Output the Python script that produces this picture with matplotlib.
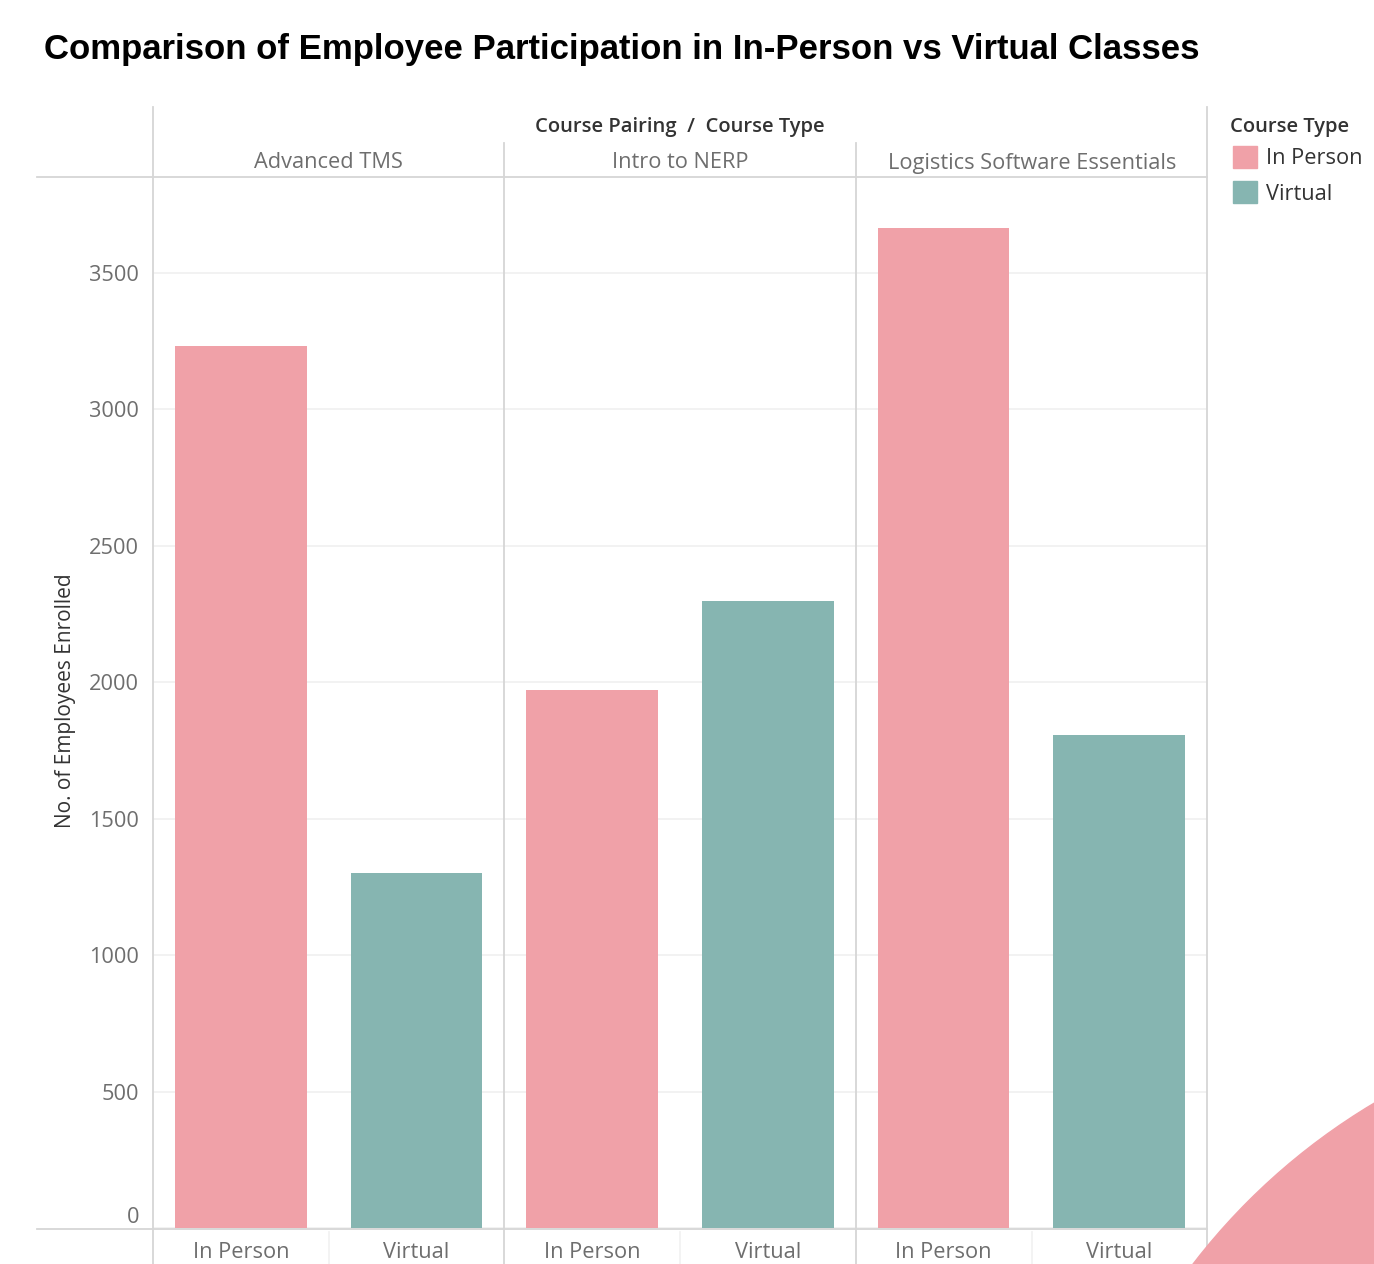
import matplotlib
matplotlib.use("Agg")
import matplotlib.pyplot as plt
from matplotlib.lines import Line2D
from matplotlib.patches import Rectangle, Ellipse

# data
courses = ["Advanced TMS", "Intro to NERP", "Logistics Software Essentials"]
course_types = ["In Person", "Virtual"]
in_person = [3230, 1970, 3665]
virtual = [1300, 2295, 1805]
y_ticks = [0, 500, 1000, 1500, 2000, 2500, 3000, 3500]

pink = "#F0A1A8"
teal = "#86B5B1"
line_c = "#d6d6d6"
grey_txt = "#6e6e6e"
dark_txt = "#333333"

W, H = 1374, 1264
fig = plt.figure(figsize=(W / 100, H / 100), dpi=100)
fig.patch.set_facecolor("white")

def fx(x):
    return x / W

def fy(y):
    return 1 - y / H

font = "Open Sans"
fs = 15.7
fs_bold = 14.5

ax = fig.add_axes([fx(153), fy(1228), (1207 - 153) / W, (1228 - 177) / H])
xs = []
vals = []
cols = []
for i, c in enumerate(courses):
    xs += [2 * i + 0.5, 2 * i + 1.5]
    vals += [in_person[i], virtual[i]]
    cols += [pink, teal]
ax.bar(xs, vals, width=0.75, color=cols, zorder=2)
ax.set_xlim(0, 6)
ax.set_ylim(0, 3850)
ax.set_yticks(y_ticks)
ax.set_yticklabels([str(v) for v in y_ticks], fontsize=fs, color=grey_txt, family=font)
ax.get_yticklabels()[0].set_va("bottom")
ax.set_xticks(xs)
ax.set_xticklabels(course_types * 3, fontsize=fs, color=grey_txt, family=font)
ax.tick_params(axis="both", length=0)
ax.tick_params(axis="y", pad=10)
ax.tick_params(axis="x", pad=10)
ax.yaxis.grid(True, color="#f0f0f0", lw=1.2, zorder=0)
for s in ax.spines.values():
    s.set_visible(False)

# frame lines
def hline(y, x0, x1, c=line_c):
    fig.add_artist(Line2D([fx(x0), fx(x1)], [fy(y), fy(y)], color=c, lw=1.3))

def vline(x, y0, y1, c=line_c):
    fig.add_artist(Line2D([fx(x), fx(x)], [fy(y0), fy(y1)], color=c, lw=1.3))

hline(177, 37, 1207)
hline(1229, 37, 1207)
vline(153, 107, 1264)
vline(504, 143, 1264)
vline(856, 143, 1264)
vline(1207, 107, 1264)
for x in [329, 680, 1032]:
    vline(x, 1232, 1264, c="#f2f2f2")

# headers
fig.text(fx(680), fy(127), "Course Pairing  /  Course Type", ha="center", va="center",
         fontsize=fs_bold, color=dark_txt, family=font, fontweight="semibold")
for i, c in enumerate(courses):
    fig.text(fx(153 + 351.5 * (i + 0.5)), fy(163), c, ha="center", va="center",
             fontsize=fs, color=grey_txt, family=font)

fig.text(fx(65), fy(701), "No. of Employees Enrolled", rotation=90, ha="center", va="center",
         fontsize=15, color=dark_txt, family=font)

fig.text(fx(44), fy(50), "Comparison of Employee Participation in In-Person vs Virtual Classes",
         ha="left", va="center", fontsize=25, fontweight="bold", family="Liberation Sans", color="black")

# legend
fig.text(fx(1230), fy(127), "Course Type", ha="left", va="center", fontsize=fs_bold,
         color=dark_txt, family=font, fontweight="semibold")
for j, (lab, c) in enumerate(zip(course_types, [pink, teal])):
    yc = 157 + 35 * j
    fig.add_artist(Rectangle((fx(1233), fy(yc + 11)), 24 / W, 22 / H, color=c,
                             transform=fig.transFigure))
    fig.text(fx(1266), fy(yc + 2), lab, ha="left", va="center", fontsize=fs,
             color=dark_txt, family=font)

# decorative pink circle at bottom right
fig.add_artist(Ellipse((fx(1705), fy(1658)), 2 * 646 / W, 2 * 646 / H, color=pink,
                       transform=fig.transFigure, zorder=3))

fig.savefig("out.png", dpi=100)
